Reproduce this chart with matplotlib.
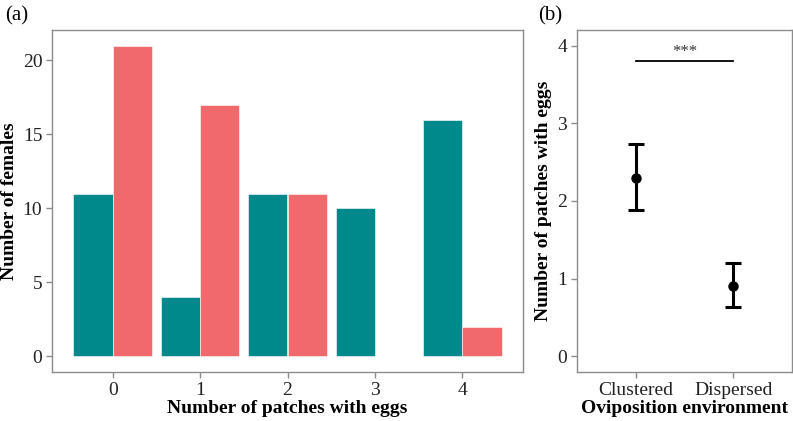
import matplotlib
matplotlib.use("Agg")
import matplotlib.pyplot as plt
import numpy as np

# ── data ──────────────────────────────────────────────────────────────
patches = [0, 1, 2, 3, 4]
clustered_counts = [11, 4, 11, 10, 16]
dispersed_counts = [21, 17, 11, 0, 2]

environments = ["Clustered", "Dispersed"]
env_mean = [2.30, 0.91]
env_low = [1.88, 0.64]
env_high = [2.73, 1.20]
signif_label = "***"
signif_y = 3.8

teal = "#00898A"
coral = "#F0696C"
grey = "#8c8c8c"

plt.rcParams["font.family"] = ["Liberation Serif", "DejaVu Serif"]
plt.rcParams["font.size"] = 14

fig = plt.figure(figsize=(7.93, 4.21), dpi=100)
W, H = 793, 421
LAB = 14


def px_axes(l, t, r, b):
    return fig.add_axes([l / W, 1 - b / H, (r - l) / W, (b - t) / H])


def style(ax):
    for s in ax.spines.values():
        s.set_color(grey)
        s.set_linewidth(1.0)
    ax.tick_params(direction="out", length=4, color=grey, width=1.0,
                   labelsize=14, labelcolor="#222222", pad=3)


# ── (a) bar chart ─────────────────────────────────────────────────────
ax1 = px_axes(52, 30, 523, 372)
x = np.array(patches)
w = 0.45
ax1.bar(x - w / 2, clustered_counts, width=w, color=teal, edgecolor="white", linewidth=0.4)
ax1.bar(x + w / 2, dispersed_counts, width=w, color=coral, edgecolor="white", linewidth=0.4)
ax1.set_xlim(-0.695, 4.695)
ax1.set_ylim(-1.05, 22.05)
ax1.set_xticks(patches)
ax1.set_yticks([0, 5, 10, 15, 20])
ax1.set_xlabel("Number of patches with eggs", fontweight="bold", fontsize=LAB, labelpad=1)
ax1.set_ylabel("Number of females", fontweight="bold", fontsize=LAB, labelpad=3)
style(ax1)
fig.text(5 / W, 1 - 16 / H, "(a)", fontsize=15, va="center", ha="left")

# ── (b) means with intervals ──────────────────────────────────────────
ax2 = px_axes(577, 30, 792, 372)
xpos = np.arange(1, len(environments) + 1)
mean = np.array(env_mean)
err = np.vstack([mean - np.array(env_low), np.array(env_high) - mean])
ax2.errorbar(xpos, mean, yerr=err, fmt="o", color="black", markersize=6.5,
             elinewidth=2.2, capsize=5.5, capthick=2.2)
ax2.plot([xpos[0], xpos[-1]], [signif_y, signif_y], color="black", linewidth=1.3)
ax2.text(xpos.mean(), signif_y + 0.02, signif_label, ha="center", va="bottom",
         fontsize=12, color="#333333")
ax2.set_xlim(0.4, 2.6)
ax2.set_ylim(-0.2, 4.2)
ax2.set_xticks(xpos)
ax2.set_xticklabels(environments)
ax2.set_yticks([0, 1, 2, 3, 4])
ax2.set_xlabel("Oviposition environment", fontweight="bold", fontsize=LAB, labelpad=1)
ax2.set_ylabel("Number of patches with eggs", fontweight="bold", fontsize=LAB, labelpad=4)
style(ax2)
fig.text(538 / W, 1 - 16 / H, "(b)", fontsize=15, va="center", ha="left")

fig.savefig("out.png", dpi=100)
